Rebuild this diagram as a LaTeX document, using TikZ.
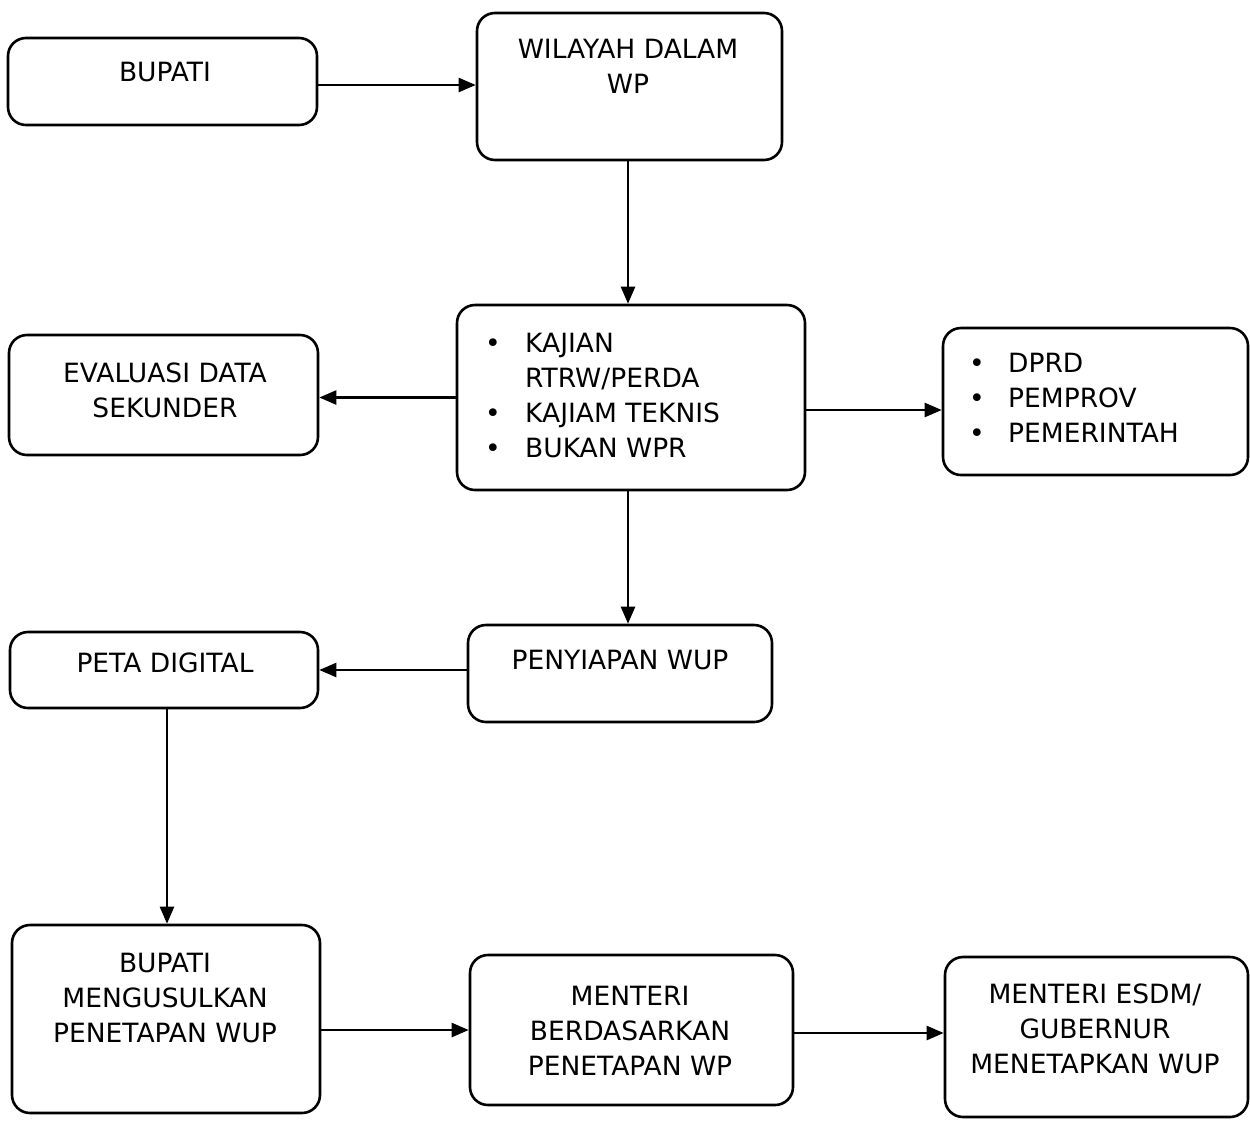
\documentclass[tikz,border=0pt]{standalone}
\usepackage{fontspec}
\setmainfont{DejaVu Sans}
\usetikzlibrary{arrows.meta,calc}
\begin{document}
\begin{tikzpicture}[x=1pt,y=-1pt,
  box/.style={draw=black,line width=2.6pt,rounded corners=18pt,inner sep=0pt},
  lbl/.style={align=center,font=\fontsize{26.5}{35}\selectfont,inner sep=0pt},
  lst/.style={align=left,font=\fontsize{26.5}{35}\selectfont,inner sep=0pt,anchor=north west},
  arr/.style={line width=2.4pt,-{Triangle[length=17pt,width=14pt]}}]
\useasboundingbox (0,0) rectangle (1250,1120);
\fill[white] (0,0) rectangle (1250,1120);

% boxes
\node[box,minimum width=309pt,minimum height=87pt]  (bupati)    at (162.5,81.5) {};
\node[box,minimum width=305pt,minimum height=147pt] (wilayah)   at (629.5,86.5) {};
\node[box,minimum width=348pt,minimum height=185pt] (kajian)    at (631,397.5) {};
\node[box,minimum width=309pt,minimum height=120pt] (evaluasi)  at (163.5,395) {};
\node[box,minimum width=305pt,minimum height=147pt] (dprd)      at (1095.5,401.5) {};
\node[box,minimum width=304pt,minimum height=97pt]  (penyiapan) at (620,673.5) {};
\node[box,minimum width=308pt,minimum height=76pt]  (peta)      at (164,670) {};
\node[box,minimum width=308pt,minimum height=188pt] (bmeng)     at (166,1019) {};
\node[box,minimum width=323pt,minimum height=150pt] (menteri)   at (631.5,1030) {};
\node[box,minimum width=303pt,minimum height=160pt] (esdm)      at (1096.5,1037) {};

% texts
\node[lbl] (tbupati)    at (165,72)   {BUPATI};
\node[lbl] (twilayah)   at (628,66)   {WILAYAH DALAM\\WP};
\node[lst] (tkajian)    at (485,333) {\makebox[40pt][l]{•}KAJIAN\\\hspace*{40pt}RTRW/PERDA\\\makebox[40pt][l]{•}KAJIAM TEKNIS\\\makebox[40pt][l]{•}BUKAN WPR};
\node[lbl] (tevaluasi)  at (165,390)  {EVALUASI DATA\\SEKUNDER};
\node[lst] (tdprd)      at (969,353) {\makebox[39pt][l]{•}DPRD\\\makebox[39pt][l]{•}PEMPROV\\\makebox[39pt][l]{•}PEMERINTAH};
\node[lbl] (tpenyiapan) at (620,660)  {PENYIAPAN WUP};
\node[lbl] (tpeta)      at (165,663)  {PETA DIGITAL};
\node[lbl] (tbmeng)     at (165,998)  {BUPATI\\MENGUSULKAN\\PENETAPAN WUP};
\node[lbl] (tmenteri)   at (630,1031) {MENTERI\\BERDASARKAN\\PENETAPAN WP};
\node[lbl] (tesdm)      at (1095,1029) {MENTERI ESDM/\\GUBERNUR\\MENETAPKAN WUP};

% connectors
\draw[arr] ([yshift=-3.5pt]bupati.east) -- ([yshift=-3.5pt]bupati.east -| wilayah.west);
\draw[arr] ([xshift=-1.5pt]wilayah.south) -- ([xshift=-1.5pt]wilayah.south |- kajian.north);
\draw[arr] (kajian.west) -- (kajian.west -| evaluasi.east);
\draw[arr] ([yshift=-12.5pt]kajian.east) -- ([yshift=-12.5pt]kajian.east -| dprd.west);
\draw[arr] ([xshift=-3pt]kajian.south) -- ([xshift=-3pt]kajian.south |- penyiapan.north);
\draw[arr] ([yshift=3.5pt]penyiapan.west) -- ([yshift=3.5pt]penyiapan.west -| peta.east);
\draw[arr] ([xshift=3pt]peta.south) -- ([xshift=3pt]peta.south |- bmeng.north);
\draw[arr] ([yshift=-11pt]bmeng.east) -- ([yshift=-11pt]bmeng.east -| menteri.west);
\draw[arr] ([yshift=-3pt]menteri.east) -- ([yshift=-3pt]menteri.east -| esdm.west);
\end{tikzpicture}
\end{document}
